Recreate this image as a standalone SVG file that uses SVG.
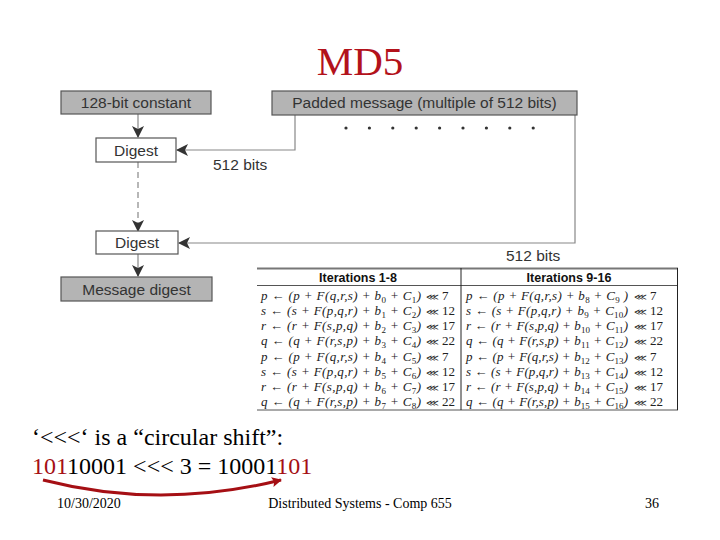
<svg xmlns="http://www.w3.org/2000/svg" width="720" height="540" viewBox="0 0 720 540">
<style>
.box{fill:#b4b4b4;stroke:#555;stroke-width:1.2}
.wbox{fill:#fff;stroke:#555;stroke-width:1.2}
.lbl{font-family:"Liberation Sans",Arial,sans-serif;font-size:15.5px;fill:#333}
.conn{fill:none;stroke:#888;stroke-width:1.2}
.hdr{font-family:"Liberation Sans",Arial,sans-serif;font-size:12.5px;font-weight:bold;fill:#111}
.m{font-family:"Liberation Serif","Times New Roman",serif;font-size:13px;font-style:italic;fill:#222}
.u{font-style:normal}
.sb{font-size:9px;font-style:normal}
.sh{font-family:"DejaVu Sans",sans-serif;font-size:9px;font-style:normal}
.num{font-family:"Liberation Serif","Times New Roman",serif;font-size:13px;fill:#222}
.ser{font-family:"Liberation Serif","Times New Roman",serif;fill:#000}
.red{fill:#a50f14}
.ft{font-family:"Liberation Serif","Times New Roman",serif;font-size:14px;fill:#000}
</style>
<defs>
<marker id="ah" markerWidth="12" markerHeight="12" refX="11" refY="6" orient="auto" markerUnits="userSpaceOnUse">
<path d="M0,0 L12,6 L0,12 L3,6 z" fill="#333"/>
</marker>
<marker id="rh" markerWidth="12" markerHeight="12" refX="9" refY="6" orient="auto" markerUnits="userSpaceOnUse">
<path d="M0,1 L10,6 L0,11 L2,6 z" fill="#a50f14"/>
</marker>
</defs>
<rect width="720" height="540" fill="#fff"/>
<text x="360" y="75" text-anchor="middle" class="ser" style="font-size:41px;fill:#b3121b">MD5</text>

<g id="connectors">
<line class="conn" x1="138" y1="114" x2="138" y2="137" marker-end="url(#ah)"/>
<polyline class="conn" points="295,115 295,150 177,150" marker-end="url(#ah)"/>
<line class="conn" x1="138" y1="162" x2="138" y2="231" stroke-dasharray="6,4" marker-end="url(#ah)"/>
<polyline class="conn" points="575,115 575,243 179,243" marker-end="url(#ah)"/>
<line class="conn" x1="138" y1="254" x2="138" y2="276" marker-end="url(#ah)"/>
<text class="lbl" x="213" y="170">512 bits</text>
<text class="lbl" x="506" y="261">512 bits</text>
<g fill="#333">
<circle cx="346" cy="128" r="1.6"/><circle cx="369.4" cy="128" r="1.6"/><circle cx="392.8" cy="128" r="1.6"/><circle cx="416.2" cy="128" r="1.6"/><circle cx="439.6" cy="128" r="1.6"/><circle cx="463" cy="128" r="1.6"/><circle cx="486.4" cy="128" r="1.6"/><circle cx="509.8" cy="128" r="1.6"/><circle cx="533.2" cy="128" r="1.6"/>
</g>
</g>

<g id="const">
<rect class="box" x="61" y="91" width="150" height="23"/>
<text class="lbl" x="136" y="108" text-anchor="middle">128-bit constant</text>
</g>
<g id="padded">
<rect class="box" x="272" y="91" width="305" height="24"/>
<text class="lbl" x="424.5" y="108" text-anchor="middle">Padded message (multiple of 512 bits)</text>
</g>
<g id="digest1">
<rect class="wbox" x="96" y="138" width="80" height="24"/>
<text class="lbl" x="136" y="155.5" text-anchor="middle">Digest</text>
</g>
<g id="digest2">
<rect class="wbox" x="96" y="231" width="82" height="23"/>
<text class="lbl" x="137" y="248" text-anchor="middle">Digest</text>
</g>
<g id="msgdigest">
<rect class="box" x="61" y="277" width="151" height="24"/>
<text class="lbl" x="136.5" y="294.5" text-anchor="middle">Message digest</text>
</g>

<g id="table">
<line x1="257" y1="268.5" x2="678" y2="268.5" stroke="#777" stroke-width="2"/>
<line x1="257" y1="285.5" x2="678" y2="285.5" stroke="#555" stroke-width="1"/>
<line x1="257" y1="410" x2="678" y2="410" stroke="#555" stroke-width="1"/>
<line x1="461" y1="268" x2="461" y2="410" stroke="#222" stroke-width="1"/>
<line x1="677.5" y1="268" x2="677.5" y2="410" stroke="#222" stroke-width="1"/>
<text class="hdr" x="358" y="282" text-anchor="middle">Iterations 1-8</text>
<text class="hdr" x="569" y="282" text-anchor="middle">Iterations 9-16</text>

<g class="m">
<text x="261" y="300" textLength="160" lengthAdjust="spacing">p <tspan class="u">←</tspan> (p + F(q,r,s) + b<tspan class="sb" dy="3">0</tspan><tspan dy="-3"> + C</tspan><tspan class="sb" dy="3">1</tspan><tspan dy="-3">)</tspan></text>
<text x="261" y="315" textLength="160" lengthAdjust="spacing">s <tspan class="u">←</tspan> (s + F(p,q,r) + b<tspan class="sb" dy="3">1</tspan><tspan dy="-3"> + C</tspan><tspan class="sb" dy="3">2</tspan><tspan dy="-3">)</tspan></text>
<text x="261" y="330" textLength="160" lengthAdjust="spacing">r <tspan class="u">←</tspan> (r + F(s,p,q) + b<tspan class="sb" dy="3">2</tspan><tspan dy="-3"> + C</tspan><tspan class="sb" dy="3">3</tspan><tspan dy="-3">)</tspan></text>
<text x="261" y="345" textLength="160" lengthAdjust="spacing">q <tspan class="u">←</tspan> (q + F(r,s,p) + b<tspan class="sb" dy="3">3</tspan><tspan dy="-3"> + C</tspan><tspan class="sb" dy="3">4</tspan><tspan dy="-3">)</tspan></text>
<text x="261" y="361" textLength="160" lengthAdjust="spacing">p <tspan class="u">←</tspan> (p + F(q,r,s) + b<tspan class="sb" dy="3">4</tspan><tspan dy="-3"> + C</tspan><tspan class="sb" dy="3">5</tspan><tspan dy="-3">)</tspan></text>
<text x="261" y="376" textLength="160" lengthAdjust="spacing">s <tspan class="u">←</tspan> (s + F(p,q,r) + b<tspan class="sb" dy="3">5</tspan><tspan dy="-3"> + C</tspan><tspan class="sb" dy="3">6</tspan><tspan dy="-3">)</tspan></text>
<text x="261" y="391" textLength="160" lengthAdjust="spacing">r <tspan class="u">←</tspan> (r + F(s,p,q) + b<tspan class="sb" dy="3">6</tspan><tspan dy="-3"> + C</tspan><tspan class="sb" dy="3">7</tspan><tspan dy="-3">)</tspan></text>
<text x="261" y="406" textLength="160" lengthAdjust="spacing">q <tspan class="u">←</tspan> (q + F(r,s,p) + b<tspan class="sb" dy="3">7</tspan><tspan dy="-3"> + C</tspan><tspan class="sb" dy="3">8</tspan><tspan dy="-3">)</tspan></text>

<text x="466" y="300" textLength="162" lengthAdjust="spacing">p <tspan class="u">←</tspan> (p + F(q,r,s) + b<tspan class="sb" dy="3">8</tspan><tspan dy="-3">  + C</tspan><tspan class="sb" dy="3">9</tspan><tspan dy="-3"> )</tspan></text>
<text x="466" y="315" textLength="162" lengthAdjust="spacing">s <tspan class="u">←</tspan> (s + F(p,q,r) + b<tspan class="sb" dy="3">9</tspan><tspan dy="-3">  + C</tspan><tspan class="sb" dy="3">10</tspan><tspan dy="-3">)</tspan></text>
<text x="466" y="330" textLength="162" lengthAdjust="spacing">r <tspan class="u">←</tspan> (r + F(s,p,q) + b<tspan class="sb" dy="3">10</tspan><tspan dy="-3"> + C</tspan><tspan class="sb" dy="3">11</tspan><tspan dy="-3">)</tspan></text>
<text x="466" y="345" textLength="162" lengthAdjust="spacing">q <tspan class="u">←</tspan> (q + F(r,s,p) + b<tspan class="sb" dy="3">11</tspan><tspan dy="-3"> + C</tspan><tspan class="sb" dy="3">12</tspan><tspan dy="-3">)</tspan></text>
<text x="466" y="361" textLength="162" lengthAdjust="spacing">p <tspan class="u">←</tspan> (p + F(q,r,s) + b<tspan class="sb" dy="3">12</tspan><tspan dy="-3"> + C</tspan><tspan class="sb" dy="3">13</tspan><tspan dy="-3">)</tspan></text>
<text x="466" y="376" textLength="162" lengthAdjust="spacing">s <tspan class="u">←</tspan> (s + F(p,q,r) + b<tspan class="sb" dy="3">13</tspan><tspan dy="-3"> + C</tspan><tspan class="sb" dy="3">14</tspan><tspan dy="-3">)</tspan></text>
<text x="466" y="391" textLength="162" lengthAdjust="spacing">r <tspan class="u">←</tspan> (r + F(s,p,q) + b<tspan class="sb" dy="3">14</tspan><tspan dy="-3"> + C</tspan><tspan class="sb" dy="3">15</tspan><tspan dy="-3">)</tspan></text>
<text x="466" y="406" textLength="162" lengthAdjust="spacing">q <tspan class="u">←</tspan> (q + F(r,s,p) + b<tspan class="sb" dy="3">15</tspan><tspan dy="-3"> + C</tspan><tspan class="sb" dy="3">16</tspan><tspan dy="-3">)</tspan></text>
</g>

<g class="num">
<text x="426" y="300"><tspan class="sh">⋘</tspan> 7</text>
<text x="426" y="315"><tspan class="sh">⋘</tspan> 12</text>
<text x="426" y="330"><tspan class="sh">⋘</tspan> 17</text>
<text x="426" y="345"><tspan class="sh">⋘</tspan> 22</text>
<text x="426" y="361"><tspan class="sh">⋘</tspan> 7</text>
<text x="426" y="376"><tspan class="sh">⋘</tspan> 12</text>
<text x="426" y="391"><tspan class="sh">⋘</tspan> 17</text>
<text x="426" y="406"><tspan class="sh">⋘</tspan> 22</text>
<text x="634" y="300"><tspan class="sh">⋘</tspan> 7</text>
<text x="634" y="315"><tspan class="sh">⋘</tspan> 12</text>
<text x="634" y="330"><tspan class="sh">⋘</tspan> 17</text>
<text x="634" y="345"><tspan class="sh">⋘</tspan> 22</text>
<text x="634" y="361"><tspan class="sh">⋘</tspan> 7</text>
<text x="634" y="376"><tspan class="sh">⋘</tspan> 12</text>
<text x="634" y="391"><tspan class="sh">⋘</tspan> 17</text>
<text x="634" y="406"><tspan class="sh">⋘</tspan> 22</text>
</g>
</g>

<text class="ser" x="32" y="445" style="font-size:24px">‘&lt;&lt;&lt;‘ is a “circular shift”:</text>
<text class="ser" x="32" y="474" style="font-size:24px"><tspan class="red">101</tspan>10001 &lt;&lt;&lt; 3 = 10001<tspan class="red">101</tspan></text>
<path d="M43,480 Q160,510 281,480" fill="none" stroke="#a50f14" stroke-width="3" marker-end="url(#rh)"/>

<text class="ft" x="57" y="508">10/30/2020</text>
<text class="ft" x="360" y="508" text-anchor="middle">Distributed Systems - Comp 655</text>
<text class="ft" x="652" y="508" text-anchor="middle">36</text>
</svg>
